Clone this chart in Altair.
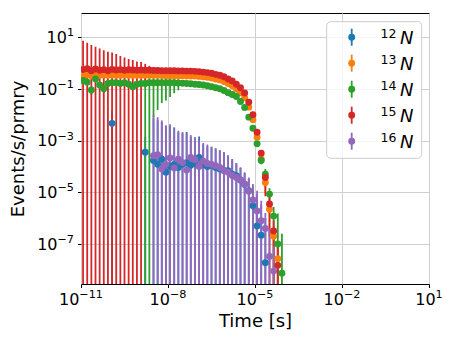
import altair as alt
import pandas as pd

# ---- binning of the time histogram (log-spaced bins, 7 per decade) ----
N_PER_DECADE = 7
T_MIN_EXP = -11
N_BINS = 49
TIME = [10 ** (T_MIN_EXP + (i + 0.5) / N_PER_DECADE) for i in range(N_BINS)]

# ---- series values (None = empty bin) ----
N12 = ([None] * 7 + [4.6e-3] + [None] * 7 + [3.5e-4, None] +
       [1.7e-4, 1.2e-4, 1.9e-4, 6e-5, 1.0e-4, 1.2e-4, 9e-5, 1.2e-4, 1.4e-4, 1.1e-4,
        1.3e-4, 2.2e-4, 1.2e-4, 1.0e-4, 1.1e-4, 9e-5, 8e-5, 7e-5, 6.8e-5, 5e-5,
        4.4e-5, 3e-5, 2e-5, 1.15e-5, 3e-6, 5e-7, 2.2e-7, 1.9e-8] + [None] * 4)
N12_ERR = ([None] * 7 + [0.01] + [None] * 7 + [1e-3, None] +
           [7e-3, 6e-3, 5e-3, 3.5e-3, 3.5e-3, 3.1e-3, 2.0e-3, 1.8e-3, 2.0e-3, 1.3e-3,
            1.1e-3, 1.2e-3, 6e-4, 5e-4, 4.5e-4, 4e-4, 3.4e-4, 2.8e-4, 2.0e-4, 1.4e-4,
            9e-5, 6e-5, 3.5e-5, 2.2e-5, 1.4e-5, 8e-6, 3e-6, 1e-6] + [None] * 4)

N13 = [0.30, 0.34, 0.32, 0.35, 0.33, 0.34, 0.33, 0.34, 0.33, 0.33,
       0.34, 0.33, 0.33, 0.33, 0.33, 0.33, 0.33, 0.33, 0.33, 0.33,
       0.32, 0.32, 0.32, 0.32, 0.32, 0.31, 0.31, 0.31, 0.30, 0.29,
       0.28, 0.26, 0.24, 0.22, 0.19, 0.16, 0.13, 0.10, 0.07, 0.045,
       0.0195, 6.3e-3, 1.35e-3, 1.9e-4, 2.4e-5, 2.2e-6, 2e-7, 2.7e-8, None]
N13_ERR = [0.05] * 15 + [0.03] * 23 + [0.01, 0.006, 0.003, 1e-3, 3e-4, 6e-5,
                                      1.5e-5, 2e-6, 2.5e-7, 5e-8, None]

N14 = [0.21, 0.18, 0.09, 0.24, 0.14, 0.10, 0.16, 0.17, 0.17, 0.16,
       0.17, 0.15, 0.12, 0.15, 0.16, 0.16, 0.17, 0.17, 0.17, 0.17,
       0.17, 0.17, 0.17, 0.165, 0.165, 0.16, 0.155, 0.15, 0.145, 0.14,
       0.13, 0.12, 0.11, 0.10, 0.085, 0.07, 0.06, 0.05, 0.032, 0.019,
       8e-3, 3e-3, 7.5e-4, 1.7e-4, 5e-5, 8.5e-6, 1.2e-6, 1e-7, 7.4e-9]
N14_ERR = ([0.03] * 15 + [0.3, 0.3, 0.162, 0.155, 0.142, 0.135, 0.122, 0.103, 0.078, 0.045,
                          0.03, 0.02, 0.012, 0.01, 0.01, 0.009, 0.008, 0.007, 0.006, 0.005,
                          0.004, 0.004, 0.003, 0.003, 0.002, 0.001, 5e-4, 1.5e-4, 5e-5, 3e-5,
                          6e-6, 1.5e-6, 1.4e-6, 2.4e-7])

N15 = [0.55, 0.60, 0.50, 0.58, 0.52, 0.55, 0.50, 0.56, 0.53, 0.55,
       0.52, 0.54, 0.53, 0.52, 0.53, 0.52, 0.52, 0.51, 0.51, 0.50,
       0.50, 0.50, 0.50, 0.49, 0.49, 0.48, 0.48, 0.47, 0.46, 0.44,
       0.42, 0.40, 0.36, 0.33, 0.29, 0.24, 0.20, 0.15, 0.11, 0.068,
       0.03, 0.01, 2.1e-3, 3.2e-4, 3.7e-5, 3.5e-6, 3.2e-7, 1.5e-8, None]
N15_ERR = [6.65, 5.4, 4.4, 3.62, 3.08, 2.55, 2.2, 1.94, 1.67, 1.3,
           1.08, 0.88, 0.75, 0.62, 0.55, 0.40, 0.25, 0.18, 0.15, 0.12,
           0.10, 0.09, 0.08, 0.07, 0.06, 0.05, 0.05, 0.045, 0.04, 0.04,
           0.035, 0.03, 0.03, 0.03, 0.025, 0.02, 0.02, 0.015, 0.01, 0.007,
           0.004, 1.5e-3, 4e-4, 1e-4, 3e-5, 4e-6, 5e-7, 8e-8, None]

N16 = ([None] * 17 +
       [2.6e-4, 2.8e-4, 8e-5, 1.2e-4, 2.1e-4, 8.7e-5, 1.9e-4, 1.4e-4, 7.2e-5, 2.2e-4,
        1.8e-4, 1.0e-4, 1.6e-4, 1.3e-4, 1.2e-4, 1.07e-4, 9e-5, 6.8e-5, 5.9e-5, 4.5e-5,
        3.7e-5, 3.0e-5, 2.1e-5, 1.1e-5, 5e-6, 1.9e-6, 8e-7, 4e-7, 3.3e-8, 9e-9] + [None] * 2)
N16_ERR = ([None] * 17 +
           [9.0e-3, 7.7e-3, 5.9e-3, 3.8e-3, 4.0e-3, 2.7e-3, 2.2e-3, 2.0e-3, 1.7e-3, 1.4e-3,
            1.2e-3, 9e-4, 6.4e-4, 5.7e-4, 4.6e-4, 3.9e-4, 3.3e-4, 2.9e-4, 2.0e-4, 1.45e-4,
            9.3e-5, 6e-5, 3.8e-5, 2.6e-5, 1.6e-5, 9.6e-6, 3.9e-6, 1.2e-6, 3.7e-7, 7.1e-8] + [None] * 2)

ISOTOPES = ["12N", "13N", "14N", "15N", "16N"]
MASSES = ["12", "13", "14", "15", "16"]
COLORS = ["#1f77b4", "#ff7f0e", "#2ca02c", "#d62728", "#9467bd"]
SERIES = [N12, N13, N14, N15, N16]
ERRORS = [N12_ERR, N13_ERR, N14_ERR, N15_ERR, N16_ERR]

X_TICK_EXP = [-11, -8, -5, -2, 1]
Y_TICK_EXP = [1, -1, -3, -5, -7]
X_DOMAIN = [1e-11, 10]
Y_DOMAIN = [2.86e-9, 84.5]

rows = []
for iso, vals, errs in zip(ISOTOPES, SERIES, ERRORS):
    for t, v, e in zip(TIME, vals, errs):
        if v is None:
            continue
        lo = v - e
        rows.append({"iso": iso, "t": t, "v": v,
                     "lo": lo if lo > 0 else 1e-12, "hi": v + e})
df = pd.DataFrame(rows)

FONT = "DejaVu Sans"
BASE_FS = 16.0
SUP_FS = 11.2
W_DIGIT, W_MINUS = 0.636, 0.838   # DejaVu Sans advance widths (em)


def exp_text(e):
    return str(e).replace("-", "\u2212")


def exp_width(e):
    s = exp_text(e)
    return sum(W_MINUS if c == "\u2212" else W_DIGIT for c in s) * SUP_FS


xs = alt.Scale(type="log", domain=X_DOMAIN, nice=False)
ys = alt.Scale(type="log", domain=Y_DOMAIN, nice=False)
cs = alt.Scale(domain=ISOTOPES, range=COLORS)

xaxis = alt.Axis(values=[10.0 ** e for e in X_TICK_EXP], labels=False,
                 title="Time [s]", titleX=174, titleY=42.5, titleBaseline="alphabetic")
yaxis = alt.Axis(values=[10.0 ** e for e in Y_TICK_EXP], labels=False,
                 title="Events/s/prmry", titleX=-58, titleY=135.5, titleBaseline="alphabetic",
                 titleAngle=270, titleAlign="center")

bars = alt.Chart(df).mark_rule(strokeWidth=1.8, clip=True).encode(
    x=alt.X("t:Q", scale=xs, axis=xaxis),
    y=alt.Y("lo:Q", scale=ys, axis=yaxis),
    y2="hi:Q",
    color=alt.Color("iso:N", scale=cs, legend=None),
)
points = alt.Chart(df).mark_circle(size=48, opacity=1, clip=True).encode(
    x=alt.X("t:Q", scale=xs, axis=xaxis),
    y=alt.Y("v:Q", scale=ys, axis=yaxis),
    color=alt.Color("iso:N", scale=cs, legend=None),
)

# ---- tick labels "10" + superscript exponent, placed through the scales ----
tick_layers = []
W10 = 2 * W_DIGIT * BASE_FS
for e in X_TICK_EXP:
    d = pd.DataFrame({"t": [10.0 ** e]})
    half = (W10 + exp_width(e)) / 2
    tick_layers += [
        alt.Chart(d).mark_text(text="10", font=FONT, fontSize=BASE_FS, align="left",
                               baseline="alphabetic", dx=-half, color="black").encode(
            x=alt.X("t:Q", scale=xs, axis=xaxis), y=alt.value(291.5)),
        alt.Chart(d).mark_text(text=exp_text(e), font=FONT, fontSize=SUP_FS, align="left",
                               baseline="alphabetic", dx=-half + W10, color="black").encode(
            x=alt.X("t:Q", scale=xs, axis=xaxis), y=alt.value(284.8)),
    ]
for e in Y_TICK_EXP:
    d = pd.DataFrame({"v": [10.0 ** e]})
    tick_layers += [
        alt.Chart(d).mark_text(text="10", font=FONT, fontSize=BASE_FS, align="right",
                               baseline="alphabetic", dy=5.8, color="black").encode(
            y=alt.Y("v:Q", scale=ys, axis=yaxis), x=alt.value(-7 - exp_width(e))),
        alt.Chart(d).mark_text(text=exp_text(e), font=FONT, fontSize=SUP_FS, align="right",
                               baseline="alphabetic", dy=-0.9, color="black").encode(
            y=alt.Y("v:Q", scale=ys, axis=yaxis), x=alt.value(-7)),
    ]

# ---- legend (drawn by hand to get the superscript mass numbers) ----
one = pd.DataFrame({"a": [0]})
legend_layers = [
    alt.Chart(one).mark_rect(fill="white", fillOpacity=0.8, stroke="#cccccc",
                             strokeWidth=1, cornerRadius=4).encode(
        x=alt.value(245.7), x2=alt.value(340.7), y=alt.value(8.7), y2=alt.value(145.3))
]
for k, (mass, col) in enumerate(zip(MASSES, COLORS)):
    yc = 24.2 + 26 * k
    legend_layers += [
        alt.Chart(one).mark_rule(strokeWidth=1.8, color=col).encode(
            x=alt.value(270.7), y=alt.value(yc - 8.5), y2=alt.value(yc + 8.5)),
        alt.Chart(one).mark_circle(size=48, opacity=1, color=col).encode(
            x=alt.value(270.7), y=alt.value(yc)),
        alt.Chart(one).mark_text(text=mass, font=FONT, fontSize=12.5, align="right",
                                 baseline="alphabetic", color="black").encode(
            x=alt.value(315.5), y=alt.value(yc + 0.5)),
        alt.Chart(one).mark_text(text="N", font=FONT, fontSize=18, fontStyle="italic",
                                 align="right", baseline="alphabetic", color="black").encode(
            x=alt.value(332.5), y=alt.value(yc + 6.5)),
    ]

chart = alt.layer(bars, points, *tick_layers, *legend_layers).properties(
    width=348, height=271,
    padding={"left": 73, "top": 5, "right": 20, "bottom": 50},
    autosize="none",
).configure_view(stroke="black", strokeWidth=1).configure_axis(
    labelFont=FONT, titleFont=FONT, labelFontSize=16, titleFontSize=18,
    titleFontWeight="normal", labelColor="black", titleColor="black",
    grid=True, gridColor="#d0d0d0", gridWidth=1, domain=False,
    ticks=True, tickColor="black", tickSize=3.5, tickWidth=1,
)

chart.save("out.html", embed_options={"renderer": "svg", "actions": False})
